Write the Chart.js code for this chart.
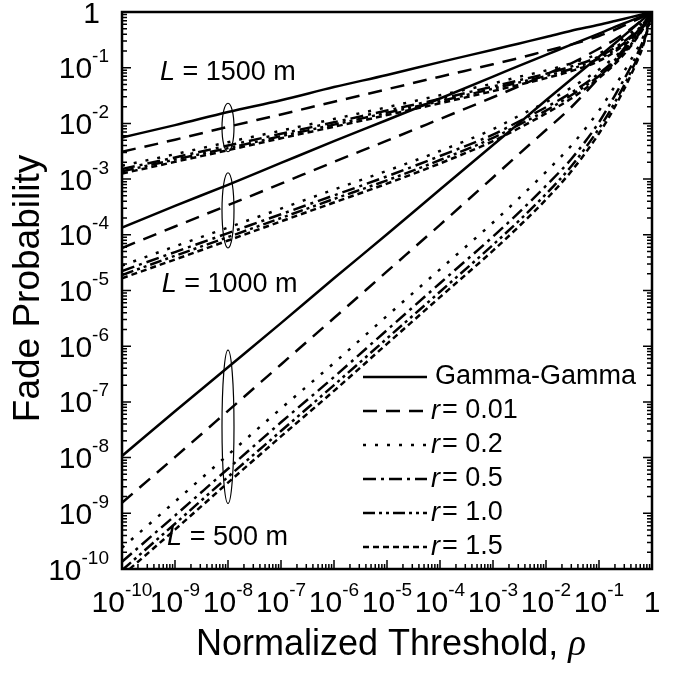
<!DOCTYPE html>
<html>
<head>
<meta charset="utf-8">
<script src="https://cdn.jsdelivr.net/npm/chart.js@4.4.0/dist/chart.umd.min.js"></script>
<style>
  html, body { margin: 0; padding: 0; background: #fff; }
  #wrap { width: 680px; height: 673px; position: relative; }
</style>
</head>
<body>
<div id="wrap"><canvas id="fade_chart"></canvas></div>
<script>
// normalized threshold (x) shared by all curves
const rho = [1e-10, 1e-9, 1e-8, 1e-7, 1e-6, 1e-5, 1e-4, 1e-3, 3e-3, 1e-2, 3e-2, 1e-1, 0.2, 0.4, 0.7, 1];

// L = 1500 m
const gg_1500   = [5.6e-3, 9.3e-3, 1.6e-2, 2.6e-2, 4.5e-2, 7.4e-2, 0.126, 0.21, 0.27, 0.355, 0.46, 0.59, 0.69, 0.81, 0.92, 1];
const r001_1500 = [3.1e-3, 5.1e-3, 8.7e-3, 1.45e-2, 2.45e-2, 4.1e-2, 6.9e-2, 0.115, 0.148, 0.20, 0.26, 0.37, 0.48, 0.65, 0.83, 1];
const r02_1500  = [1.74e-3, 2.8e-3, 4.6e-3, 7.4e-3, 1.2e-2, 1.95e-2, 3.2e-2, 5.2e-2, 6.8e-2, 8.9e-2, 0.12, 0.18, 0.26, 0.42, 0.68, 1];
const r05_1500  = [1.51e-3, 2.45e-3, 4.0e-3, 6.5e-3, 1.05e-2, 1.7e-2, 2.75e-2, 4.6e-2, 5.9e-2, 7.8e-2, 0.105, 0.158, 0.23, 0.37, 0.63, 1];
const r10_1500  = [1.38e-3, 2.24e-3, 3.6e-3, 5.9e-3, 9.5e-3, 1.55e-2, 2.5e-2, 4.2e-2, 5.4e-2, 7.1e-2, 9.5e-2, 0.145, 0.21, 0.35, 0.60, 1];
const r15_1500  = [1.26e-3, 2.04e-3, 3.3e-3, 5.4e-3, 8.7e-3, 1.41e-2, 2.3e-2, 3.8e-2, 4.9e-2, 6.5e-2, 8.7e-2, 0.132, 0.195, 0.32, 0.575, 1];

// L = 1000 m
const gg_1000   = [1.35e-4, 3.3e-4, 7.9e-4, 1.95e-3, 4.8e-3, 1.15e-2, 2.8e-2, 6.9e-2, 0.107, 0.17, 0.26, 0.41, 0.54, 0.70, 0.87, 1];
const r001_1000 = [5.8e-5, 1.41e-4, 3.4e-4, 8.3e-4, 2.04e-3, 4.9e-3, 1.2e-2, 2.95e-2, 4.6e-2, 7.6e-2, 0.12, 0.22, 0.32, 0.50, 0.76, 1];
const r02_1000  = [2.8e-5, 6.2e-5, 1.35e-4, 2.95e-4, 6.5e-4, 1.41e-3, 3.2e-3, 7.9e-3, 1.35e-2, 2.4e-2, 4.4e-2, 9.3e-2, 0.158, 0.30, 0.59, 1];
const r05_1000  = [2.24e-5, 4.9e-5, 1.07e-4, 2.34e-4, 5.1e-4, 1.12e-3, 2.6e-3, 6.3e-3, 1.07e-2, 1.95e-2, 3.55e-2, 7.9e-2, 0.138, 0.275, 0.56, 1];
const r10_1000  = [1.9e-5, 4.2e-5, 9.1e-5, 2.0e-4, 4.4e-4, 9.5e-4, 2.2e-3, 5.5e-3, 9.3e-3, 1.7e-2, 3.2e-2, 7.1e-2, 0.126, 0.26, 0.54, 1];
const r15_1000  = [1.66e-5, 3.6e-5, 7.9e-5, 1.74e-4, 3.8e-4, 8.3e-4, 1.91e-3, 4.8e-3, 8.1e-3, 1.51e-2, 2.8e-2, 6.5e-2, 0.117, 0.245, 0.525, 1];

// L = 500 m
const gg_500    = [1.07e-8, 6.8e-8, 4.2e-7, 2.6e-6, 1.66e-5, 1.02e-4, 6.5e-4, 4.1e-3, 9.8e-3, 2.6e-2, 6.2e-2, 0.158, 0.275, 0.48, 0.76, 1];
const r001_500  = [1.55e-9, 1.02e-8, 6.9e-8, 4.7e-7, 3.2e-6, 2.2e-5, 1.51e-4, 1.07e-3, 2.75e-3, 7.6e-3, 1.95e-2, 6.6e-2, 0.138, 0.32, 0.63, 1];
const r02_500   = [2.4e-10, 1.62e-9, 1.12e-8, 7.6e-8, 5.0e-7, 3.5e-6, 2.4e-5, 1.66e-4, 4.4e-4, 1.35e-3, 4.0e-3, 1.7e-2, 4.7e-2, 0.138, 0.38, 1];
const r05_500   = [1.35e-10, 9.1e-10, 6.3e-9, 4.3e-8, 2.8e-7, 1.95e-6, 1.35e-5, 9.3e-5, 2.45e-4, 7.6e-4, 2.3e-3, 1.05e-2, 3.2e-2, 0.105, 0.33, 1];
const r10_500   = [9.5e-11, 6.5e-10, 4.5e-9, 3.0e-8, 2.0e-7, 1.38e-6, 9.5e-6, 6.6e-5, 1.74e-4, 5.4e-4, 1.7e-3, 8.1e-3, 2.4e-2, 8.5e-2, 0.29, 1];
const r15_500   = [7.6e-11, 5.1e-10, 3.55e-9, 2.4e-8, 1.58e-7, 1.1e-6, 7.6e-6, 5.2e-5, 1.38e-4, 4.3e-4, 1.38e-3, 6.6e-3, 2.0e-2, 7.4e-2, 0.27, 1];

// legend entries (one line style each)
const seriesNames = ['Gamma-Gamma', '0.01', '0.2', '0.5', '1.0', '1.5'];

// axis decades, 10^-10 .. 1
const tickExponents = [-10, -9, -8, -7, -6, -5, -4, -3, -2, -1, 0];

// group labels and the ellipses marking each group at rho = 1e-8
const groupLabels = ['1500', '1000', '500'];
const groupLabelX = [5.2e-10, 5.6e-10, 7.1e-10];
const groupLabelY = [8.3e-2, 1.3e-5, 3.7e-10];
const ellipseX = 1e-8;
const ellipseTop = [2.3e-2, 1.3e-3, 8.5e-7];
const ellipseBottom = [3.1e-3, 5.8e-5, 1.5e-9];

const dashes = [
    [],                    // Gamma-Gamma
    [14, 9],               // r = 0.01
    [3, 9],                // r = 0.2
    [13, 5, 3, 5],         // r = 0.5
    [12, 4, 3, 4, 3, 4],   // r = 1.0
    [6, 4]                 // r = 1.5
];

const groups = [
    [gg_1500, r001_1500, r02_1500, r05_1500, r10_1500, r15_1500],
    [gg_1000, r001_1000, r02_1000, r05_1000, r10_1000, r15_1000],
    [gg_500, r001_500, r02_500, r05_500, r10_500, r15_500]
];

let datasets = [];
groups.forEach((group, g) => {
    group.forEach((values, s) => {
        datasets.push({
            label: seriesNames[s] + ' (L=' + groupLabels[g] + ')',
            data: rho.map((x, i) => ({ x: x, y: values[i] })),
            borderColor: '#000',
            borderWidth: 2.5,
            borderDash: dashes[s],
            pointRadius: 0,
            fill: false,
            cubicInterpolationMode: 'monotone'
        });
    });
});

const FONT = '"Liberation Sans", Arial, sans-serif';

// draws "10" with a raised exponent, or "1" for 10^0
function powerLabel(ctx, e, px, py, align) {
    const main = 30, sup = 19;
    ctx.textBaseline = 'alphabetic';
    ctx.textAlign = 'left';
    const base = py + 10.5;
    if (e === 0) {
        ctx.font = main + 'px ' + FONT;
        const w = ctx.measureText('1').width;
        let x0 = align === 'center' ? px - w / 2 : px - w - 9;
        ctx.fillText('1', x0, base);
        return;
    }
    ctx.font = main + 'px ' + FONT;
    const w1 = ctx.measureText('10').width;
    ctx.font = sup + 'px ' + FONT;
    const exp = '-' + (-e);
    const w2 = ctx.measureText(exp).width;
    let x0 = align === 'center' ? px - (w1 + w2) / 2 : px - (w1 + w2);
    ctx.font = main + 'px ' + FONT;
    ctx.fillText('10', x0, base);
    ctx.font = sup + 'px ' + FONT;
    ctx.fillText(exp, x0 + w1, base - 16);
}

// italic symbol followed by plain text
function mixedText(ctx, sym, symFont, rest, restFont, x0, y0, gap) {
    ctx.font = symFont;
    ctx.fillText(sym, x0, y0);
    const w = ctx.measureText(sym).width;
    ctx.font = restFont;
    ctx.fillText(rest, x0 + w + gap, y0);
}

const framePlugin = {
    id: 'frame',
    afterDraw(chart) {
        const { ctx, chartArea: a, scales: { x, y } } = chart;
        ctx.save();
        ctx.fillStyle = '#000';
        ctx.strokeStyle = '#000';
        ctx.setLineDash([]);

        // ellipses around each group
        ctx.lineWidth = 1.2;
        for (let g = 0; g < 3; g++) {
            const cx = x.getPixelForValue(ellipseX);
            const t = y.getPixelForValue(ellipseTop[g]);
            const b = y.getPixelForValue(ellipseBottom[g]);
            ctx.beginPath();
            ctx.ellipse(cx, (t + b) / 2, 6, (b - t) / 2, 0, 0, Math.PI * 2);
            ctx.stroke();
        }

        // frame
        ctx.lineWidth = 2.5;
        ctx.strokeRect(a.left, a.top, a.right - a.left, a.bottom - a.top);

        // inward ticks on left, right and bottom
        ctx.lineWidth = 1.5;
        ctx.beginPath();
        tickExponents.forEach(e => {
            for (let m = 1; m <= 9; m++) {
                const v = m * Math.pow(10, e);
                if (v > 1.0000001) break;
                const len = m === 1 ? 9 : 5;
                const px = x.getPixelForValue(v);
                const py = y.getPixelForValue(v);
                ctx.moveTo(px, a.bottom); ctx.lineTo(px, a.bottom - len);
                ctx.moveTo(a.left, py); ctx.lineTo(a.left + len, py);
                ctx.moveTo(a.right, py); ctx.lineTo(a.right - len, py);
            }
        });
        ctx.stroke();

        // tick labels
        tickExponents.forEach(e => {
            const v = Math.pow(10, e);
            powerLabel(ctx, e, x.getPixelForValue(v), a.bottom + 32, 'center');
            powerLabel(ctx, e, a.left - 13, y.getPixelForValue(v), 'right');
        });

        // axis titles
        ctx.textBaseline = 'alphabetic';
        ctx.textAlign = 'left';
        ctx.font = '36px ' + FONT;
        const t1 = 'Normalized Threshold, ';
        const w1 = ctx.measureText(t1).width;
        ctx.font = 'italic 37px "Liberation Serif", serif';
        const w2 = ctx.measureText('\u03c1').width;
        const xt = (a.left + a.right) / 2 - (w1 + w2) / 2 + 4;
        ctx.font = '36px ' + FONT;
        ctx.fillText(t1, xt, a.bottom + 86);
        ctx.font = 'italic 37px "Liberation Serif", serif';
        ctx.fillText('\u03c1', xt + w1, a.bottom + 86);

        ctx.save();
        ctx.translate(39, (a.top + a.bottom) / 2 - 2);
        ctx.rotate(-Math.PI / 2);
        ctx.textAlign = 'center';
        ctx.font = '37px ' + FONT;
        ctx.fillText('Fade Probability', 0, 0);
        ctx.restore();

        // link distance labels
        ctx.textBaseline = 'middle';
        for (let g = 0; g < 3; g++) {
            mixedText(ctx, 'L', 'italic 27px ' + FONT, ' = ' + groupLabels[g] + ' m', '27px ' + FONT,
                x.getPixelForValue(groupLabelX[g]), y.getPixelForValue(groupLabelY[g]), 0);
        }

        // legend
        const lx0 = a.right - 289, lx1 = a.right - 225;
        for (let s = 0; s < seriesNames.length; s++) {
            const ly = a.top + 365 + s * 34;
            ctx.lineWidth = 2.5;
            ctx.setLineDash(dashes[s]);
            ctx.beginPath();
            ctx.moveTo(lx0, ly); ctx.lineTo(lx1, ly);
            ctx.stroke();
            ctx.setLineDash([]);
            if (s === 0) {
                ctx.font = '27px ' + FONT;
                ctx.fillText(seriesNames[s], lx1 + 8, ly);
            } else {
                mixedText(ctx, 'r', 'italic 27px ' + FONT, '= ' + seriesNames[s], '27px ' + FONT, lx1 + 4, ly, 2);
            }
        }
        ctx.restore();
    }
};

new Chart(document.getElementById('fade_chart'), {
    type: 'line',
    data: { datasets: datasets },
    options: {
        responsive: true,
        maintainAspectRatio: false,
        animation: false,
        layout: { padding: { left: 122, top: 12, right: 28, bottom: 104 } },
        plugins: { legend: { display: false }, tooltip: { enabled: false } },
        scales: {
            x: { type: 'logarithmic', min: 1e-10, max: 1, display: false },
            y: { type: 'logarithmic', min: 1e-10, max: 1, display: false }
        }
    },
    plugins: [framePlugin]
});
</script>
</body>
</html>
